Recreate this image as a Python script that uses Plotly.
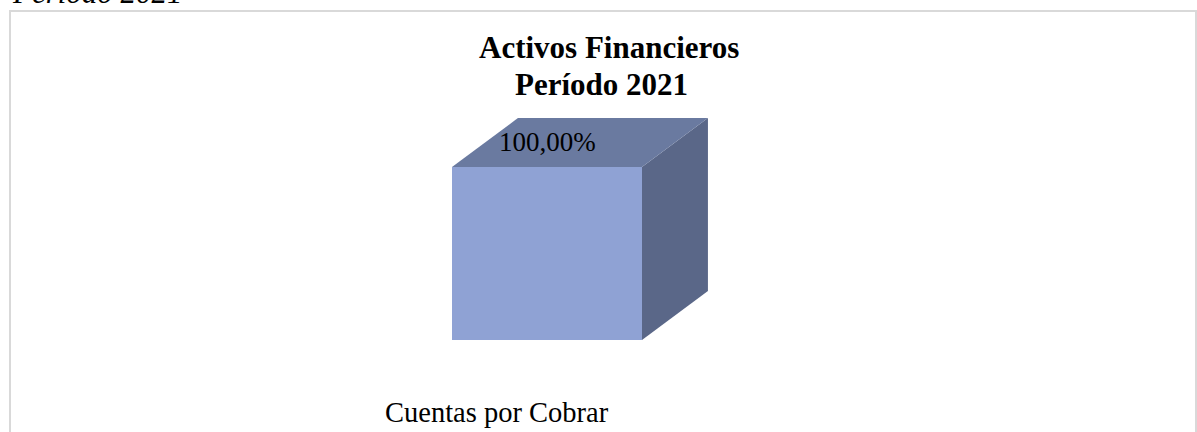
import plotly.graph_objects as go

# ---- data ----
categories = ["Cuentas por Cobrar"]
values_pct = [100.00]
title_lines = ["Activos Financieros", "Período 2021"]
caption_above = "Período 2021"

# ---- style ----
W, H = 1197, 432
FRONT = "#8FA2D4"
TOP = "#6A7AA0"
SIDE = "#5A6788"
BORDER = "#D9D9D9"
SERIF = "Liberation Serif, Times New Roman, serif"
bar_half = 0.5          # half width of the bar in category units
depth_x = 0.347         # 3-D depth offset (category units)
depth_y = 0.283         # 3-D depth offset (value units, fraction)

fig = go.Figure()

for i, (cat, pct) in enumerate(zip(categories, values_pct)):
    v = pct / 100.0
    x0, x1 = i - bar_half, i + bar_half
    # side face
    fig.add_trace(go.Scatter(
        x=[x1, x1 + depth_x, x1 + depth_x, x1, x1],
        y=[0, depth_y, v + depth_y, v, 0],
        fill="toself", fillcolor=SIDE, line=dict(width=0, color=SIDE),
        mode="lines", hoverinfo="skip", showlegend=False))
    # top face
    fig.add_trace(go.Scatter(
        x=[x0, x1, x1 + depth_x, x0 + depth_x, x0],
        y=[v, v, v + depth_y, v + depth_y, v],
        fill="toself", fillcolor=TOP, line=dict(width=0, color=TOP),
        mode="lines", hoverinfo="skip", showlegend=False))
    # front face
    fig.add_trace(go.Scatter(
        x=[x0, x1, x1, x0, x0],
        y=[0, 0, v, v, 0],
        fill="toself", fillcolor=FRONT, line=dict(width=0, color=FRONT),
        mode="lines", hoverinfo="skip", showlegend=False))
    # value label
    fig.add_annotation(
        x=i, y=v, xref="x", yref="y",
        text=f"{pct:.2f}".replace(".", ",") + "%",
        showarrow=False, yanchor="bottom", yshift=8,
        font=dict(family=SERIF, size=27, color="black"))
    # category label
    fig.add_annotation(
        x=i, y=0, xref="x", yref="y",
        text=cat, showarrow=False, yanchor="top", xshift=-50, yshift=-55,
        font=dict(family=SERIF, size=28.5, color="black"))

# title (two lines)
fig.add_annotation(x=609 / W, y=1 - 28 / H, xref="paper", yref="paper",
                   text=f"<b>{title_lines[0]}</b>", showarrow=False,
                   yanchor="top", xanchor="center",
                   font=dict(family=SERIF, size=31, color="black"))
fig.add_annotation(x=601 / W, y=1 - 65 / H, xref="paper", yref="paper",
                   text=f"<b>{title_lines[1]}</b>", showarrow=False,
                   yanchor="top", xanchor="center",
                   font=dict(family=SERIF, size=31, color="black"))

# caption cut off at top
fig.add_annotation(x=10 / W, y=1 - 12 / H, xref="paper", yref="paper",
                   text=f"<i>{caption_above}</i>", showarrow=False,
                   yanchor="bottom", xanchor="left",
                   font=dict(family=SERIF, size=31, color="black"))

# chart frame
fig.add_shape(type="rect", xref="paper", yref="paper",
              x0=10 / W, x1=1196 / W, y0=-0.05, y1=1 - 11 / H,
              line=dict(color=BORDER, width=2), fillcolor="rgba(0,0,0,0)",
              layer="below")

# axes: map so that the bar front face sits where it does in the chart
px_per_x = 190.0
px_per_v = 173.0
x_left_px, y_base_px = 452.0, 340.0
xr = [(0 - x_left_px) / px_per_x - bar_half, (W - x_left_px) / px_per_x - bar_half]
yr = [(y_base_px - H) / px_per_v, (y_base_px - 0) / px_per_v]

fig.update_xaxes(range=xr, visible=False, fixedrange=True)
fig.update_yaxes(range=yr, visible=False, fixedrange=True)

fig.update_layout(
    width=W, height=H, autosize=False,
    margin=dict(l=0, r=0, t=0, b=0),
    paper_bgcolor="white", plot_bgcolor="white",
    showlegend=False,
)

fig.write_html("out.html", config={"displayModeBar": False},
               post_script="document.body.style.margin='0px';document.body.style.overflow='hidden';")
